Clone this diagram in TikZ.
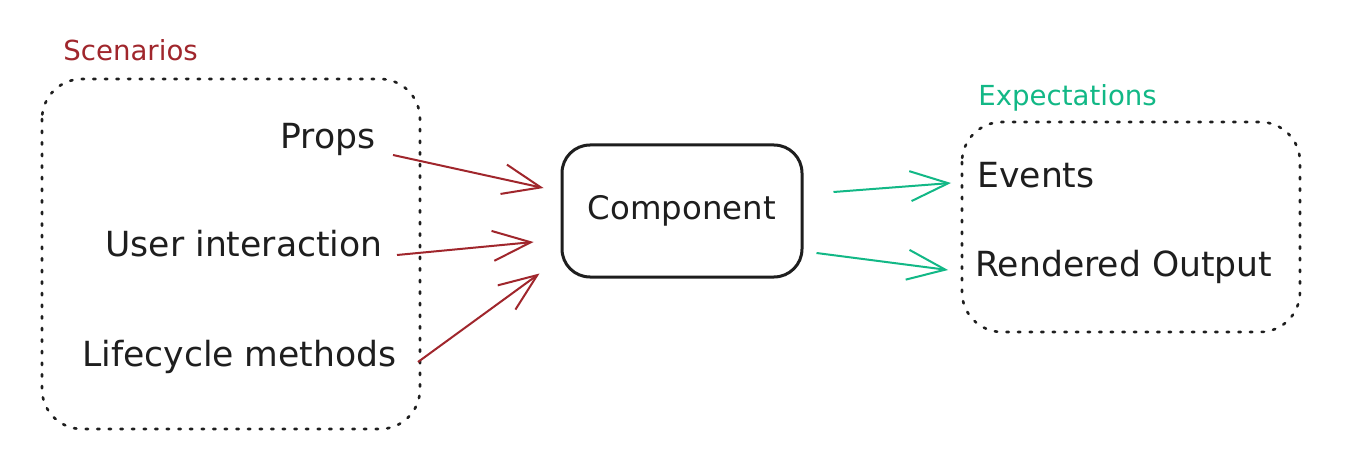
\documentclass[tikz,border=0pt]{standalone}
\usepackage{fontspec}
\setmainfont{DejaVu Sans}
\usepackage{xcolor}
\usepackage{tikz}
\usetikzlibrary{arrows.meta, positioning}
\definecolor{scenariocolor}{RGB}{160, 38, 44}
\definecolor{expectcolor}{RGB}{18, 184, 134}
\definecolor{inkcolor}{RGB}{30, 30, 30}

\begin{document}
\begin{tikzpicture}[x=0.5pt, y=-0.5pt,
    txt/.style={inner sep=0pt, text=inkcolor, font=\fontsize{17.3}{20}\selectfont},
    grouplabel/.style={inner sep=0pt, anchor=west, font=\fontsize{13.8}{16}\selectfont},
    groupbox/.style={draw=inkcolor, line width=1.3pt, dash pattern=on 1.2pt off 4.6pt, line cap=round, rounded corners=20pt},
    compbox/.style={draw=inkcolor, line width=1.5pt, rounded corners=14pt, minimum width=120pt, minimum height=66pt, text=inkcolor, font=\fontsize{16.2}{19}\selectfont},
    scenarrow/.style={draw=scenariocolor, line width=1pt, -{Straight Barb[length=19pt, width=15pt, line width=1pt]}},
    expectarrow/.style={draw=expectcolor, line width=1pt, -{Straight Barb[length=19pt, width=15pt, line width=1pt]}}]
    % Canvas
    \fill[white] (0,0) rectangle (1355,476);

    % Scenarios group
    \node[grouplabel, text=scenariocolor] (scenlabel) at (63,50) {Scenarios};
    \draw[groupbox] (42,79) rectangle (420,429);
    \node[txt, anchor=east] (props) at (376,139) {Props};
    \node[txt, anchor=east] (user) at (383,244) {User interaction};
    \node[txt, anchor=east] (life) at (397,357) {Lifecycle methods};

    % Component
    \node[compbox] (comp) at (682,211) {Component};

    % Expectations group
    \node[grouplabel, text=expectcolor] (expectlabel) at (978,98) {Expectations};
    \draw[groupbox] (962,122) rectangle (1300,332);
    \node[txt, anchor=west] (events) at (977,175) {Events};
    \node[txt, anchor=west] (output) at (975,267) {Rendered Output};

    % Scenario arrows
    \draw[scenarrow] ([shift={(17,16)}]props.east) -- ([shift={(-17,-23)}]comp.west);
    \draw[scenarrow] ([shift={(14,11)}]user.east) -- ([shift={(-27,31)}]comp.west);
    \draw[scenarrow] ([shift={(21,5)}]life.east) -- ([shift={(-21,-5)}]comp.south west);

    % Expectation arrows
    \draw[expectarrow] ([shift={(30,-19)}]comp.east) -- ([shift={(-26,8)}]events.west);
    \draw[expectarrow] ([shift={(13,42)}]comp.east) -- ([shift={(-27,3)}]output.west);
\end{tikzpicture}
\end{document}
